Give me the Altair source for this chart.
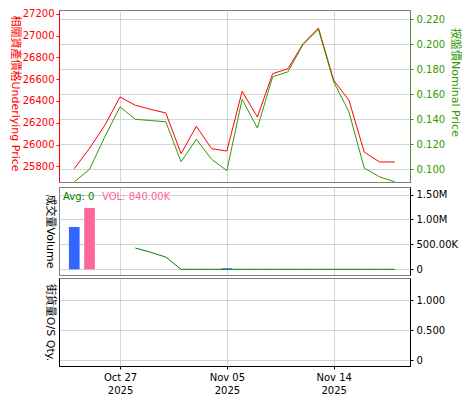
import altair as alt
import pandas as pd

# ---- data (trading-day index) ----
idx = [0, 1, 2, 3, 4, 5, 6, 7, 8, 9, 10, 11, 12, 13, 14, 15, 16, 17, 18, 19, 20, 21]
underlying = [25778, 25965, 26176, 26436, 26360, 26323, 26289, 25916, 26167, 25962, 25940,
              26488, 26252, 26650, 26695, 26925, 27069, 26589, 26406, 25931, 25840, 25840]
nominal = [0.090, 0.100, 0.126, 0.150, 0.140, 0.139, 0.138, 0.106, 0.124, 0.108, 0.099,
           0.156, 0.133, 0.174, 0.178, 0.200, 0.212, 0.170, 0.146, 0.101, 0.094, 0.090]

vol_idx = [0, 1, 10]
vol_vals = [849000, 1231000, 20000]
vol_colors = ["#3366FF", "#FF6699", "#3366FF"]

avg_idx = [4, 5, 6, 7, 8, 9, 10, 11, 12, 13, 14, 15, 16, 17, 18, 19, 20, 21]
avg_vals = [428000, 343000, 245000, 0, 0, 0, 0, 0, 0, 0, 0, 0, 0, 0, 0, 0, 0, 0]

os_idx = []
os_qty = []

tick_idx = [3, 10, 17]
tick_day = ["Oct 27", "Nov 05", "Nov 14"]
tick_year = ["2025", "2025", "2025"]

left_ticks = [25800, 26000, 26200, 26400, 26600, 26800, 27000, 27200]
right_ticks = [0.10, 0.12, 0.14, 0.16, 0.18, 0.20, 0.22]
vol_ticks = [0, 500000, 1000000, 1500000]
os_ticks = [0, 0.5, 1.0]

annot_text = ["Avg: 0", "VOL: 840.00K"]
annot_color = ["#008000", "#FF6699"]

RED = "#FF0000"
GREEN = "#339900"
GRID = "#AAAAAA"
FONT = "DejaVu Sans"
TFONT = "'DejaVu Sans', 'Noto Sans CJK TC'"
BAR_HALF = 0.35  # half bar width in index units

W = 351
xscale = alt.Scale(domain=[-1, 22], nice=False, zero=False)

def x_hidden(field="idx"):
    return alt.X(f"{field}:Q", scale=xscale,
                 axis=alt.Axis(values=tick_idx, grid=True, labels=False, ticks=False,
                               domain=False, title=None, gridColor=GRID, gridDash=[1, 1]))

label_expr = " : ".join(
    f"datum.value == {i} ? ['{d}', '{y}']" for i, d, y in zip(tick_idx[:-1], tick_day[:-1], tick_year[:-1])
) + f" : ['{tick_day[-1]}', '{tick_year[-1]}']"

def left_title_axis(title):
    return alt.Axis(orient="left", title=title, labels=False, ticks=False, domain=False,
                    grid=False, titleAngle=90, titleBaseline="top", titlePadding=4,
                    titleColor="#000000")

# ---- top panel ----
price_df = pd.DataFrame({"idx": idx, "underlying": underlying, "nominal": nominal})

red_line = alt.Chart(price_df).mark_line(color=RED, strokeWidth=1).encode(
    x=x_hidden(),
    y=alt.Y("underlying:Q",
            scale=alt.Scale(domain=[25656, 27234], nice=False, zero=False),
            axis=alt.Axis(orient="left", values=left_ticks, format="d", grid=False,
                          labelColor=RED, tickColor=RED, domainColor=RED, tickSize=3,
                          labelPadding=2, title="相關資產價格Underlying Price",
                          titleColor=RED, titleAngle=90, titleBaseline="top",
                          titlePadding=2, titleY=83)),
)
green_line = alt.Chart(price_df).mark_line(color=GREEN, strokeWidth=1).encode(
    x=x_hidden(),
    y=alt.Y("nominal:Q",
            scale=alt.Scale(domain=[0.08984, 0.22744], nice=False, zero=False),
            axis=alt.Axis(orient="right", values=right_ticks, format=".3f", grid=True,
                          gridColor=GRID, gridDash=[1, 1],
                          labelColor=GREEN, tickColor=GREEN, domainColor=GREEN,
                          domainDash=[1, 1], tickSize=3, labelPadding=3,
                          title="按盤價Nominal Price", titleColor=GREEN, titlePadding=5,
                          titleY=72)),
)
top = alt.layer(red_line, green_line).resolve_scale(y="independent").properties(width=W, height=172)

# ---- middle panel ----
vol_df = pd.DataFrame({"idx": vol_idx, "vol": vol_vals, "color": vol_colors})
avg_df = pd.DataFrame({"idx": avg_idx, "vol": avg_vals})
vol_scale = alt.Scale(domain=[-114500, 1652600], nice=False, zero=False)

vol_expr = ("datum.value == 0 ? '0' : datum.value >= 1000000 ? format(datum.value / 1000000, '.2f') + 'M'"
            " : format(datum.value / 1000, '.2f') + 'K'")

bars = alt.Chart(vol_df).transform_calculate(
    x0=f"datum.idx - {BAR_HALF}", x1=f"datum.idx + {BAR_HALF}", base="0"
).mark_rect().encode(
    x=x_hidden("x0"),
    x2="x1:Q",
    y=alt.Y("vol:Q", scale=vol_scale,
            axis=alt.Axis(orient="right", values=vol_ticks, labelExpr=vol_expr, grid=True,
                          gridColor=GRID, gridDash=[1, 1], tickColor="#000000",
                          domainColor="#000000", tickSize=3, labelPadding=3, title=None)),
    y2="base:Q",
    color=alt.Color("color:N", scale=None),
)
avg_line = alt.Chart(avg_df).mark_line(color="#008000", strokeWidth=1).encode(
    x=x_hidden(),
    y=alt.Y("vol:Q", scale=vol_scale, axis=left_title_axis("成交量Volume")),
)
annot_df = pd.DataFrame({"text": annot_text, "color": annot_color})
t1 = alt.Chart(annot_df).transform_filter(alt.datum.text == annot_text[0]).mark_text(
    align="left", baseline="middle", font=FONT, fontSize=10).encode(
    x=alt.value(4), y=alt.value(10), text="text:N", color=alt.Color("color:N", scale=None))
t2 = alt.Chart(annot_df).transform_filter(alt.datum.text == annot_text[1]).mark_text(
    align="left", baseline="middle", font=FONT, fontSize=10).encode(
    x=alt.value(43), y=alt.value(10), text="text:N", color=alt.Color("color:N", scale=None))

mid = alt.layer(bars, avg_line, t1, t2).resolve_scale(y="independent").properties(width=W, height=88)

# ---- bottom panel ----
os_df = pd.DataFrame({"idx": pd.Series(os_idx, dtype=float), "qty": pd.Series(os_qty, dtype=float)})
os_scale = alt.Scale(domain=[-0.1, 1.3667], nice=False, zero=False)
x_bottom = alt.X("idx:Q", scale=xscale,
                 axis=alt.Axis(values=tick_idx, grid=True, gridColor=GRID, gridDash=[1, 1],
                               labelExpr=label_expr, tickSize=3, labelPadding=3,
                               labelLineHeight=13, domainColor="#000000",
                               tickColor="#000000", title=None))
os_right = alt.Chart(os_df).mark_line(color="#000000").encode(
    x=x_bottom,
    y=alt.Y("qty:Q", scale=os_scale,
            axis=alt.Axis(orient="right", values=os_ticks,
                          labelExpr="datum.value == 0 ? '0' : format(datum.value, '.3f')",
                          grid=True, gridColor=GRID, gridDash=[1, 1], tickColor="#000000",
                          domainColor="#000000", tickSize=3, labelPadding=3, title=None)),
)
os_left = alt.Chart(os_df).mark_line(color="#000000").encode(
    x=x_bottom,
    y=alt.Y("qty:Q", scale=os_scale,
            axis=alt.Axis(orient="left", title="街貨量O/S Qty.", labels=False, ticks=False,
                          domain=True, domainColor="#000000", grid=False, titleAngle=90,
                          titleBaseline="top", titlePadding=4, titleColor="#000000")),
)
bot = alt.layer(os_right, os_left).resolve_scale(y="independent").properties(width=W, height=88)

chart = alt.vconcat(top, mid, bot, spacing=1).properties(
    padding={"left": 0, "top": 0, "right": 0, "bottom": 0}
).configure_view(
    stroke="#000000", strokeDash=[1, 1], strokeWidth=1
).configure_axis(
    labelFont=FONT, labelFontSize=10, labelColor="#000000",
    titleFont=TFONT, titleFontSize=11, titleFontWeight="normal",
)

chart.save("out.html", embed_options={"renderer": "svg", "actions": False})
